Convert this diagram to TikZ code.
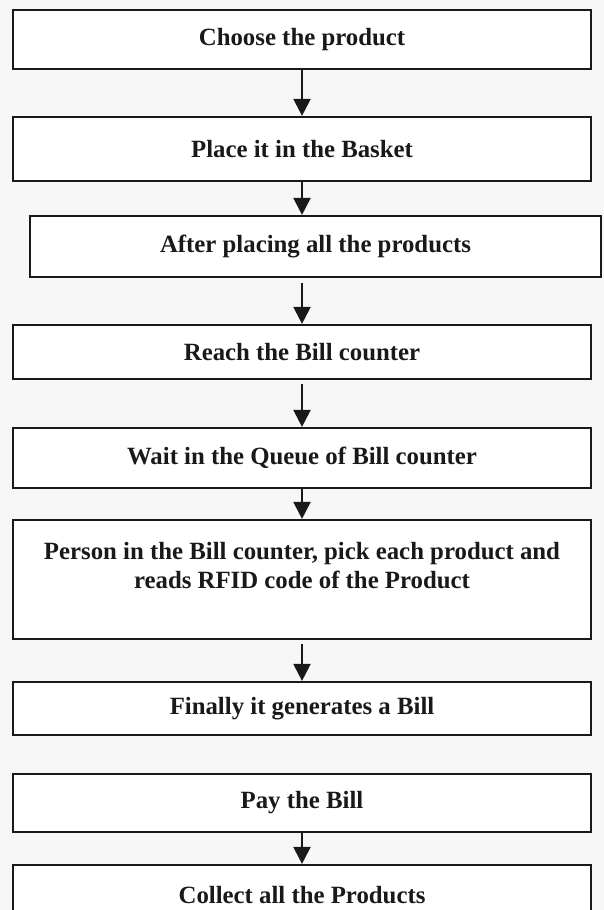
\documentclass[tikz,border=0pt]{standalone}
\usepackage{fontspec}
\setmainfont{Liberation Serif}
\usetikzlibrary{arrows.meta}
\begin{document}
\begin{tikzpicture}[x=0.5pt,y=-0.5pt,
  stepbox/.style={draw=black!90, line width=1.1pt, fill=white,
    minimum width=289pt, inner sep=0pt, align=center,
    font=\fontsize{12.4}{14.5}\selectfont\bfseries, text=black!90},
  flow/.style={draw=black!90, line width=1.1pt,
    -{Triangle[width=8.5pt,length=8.5pt]}}]
  \useasboundingbox (0,0) rectangle (604,910);
  \clip (0,0) rectangle (604,910);
  \fill[white!97!black] (0,0) rectangle (604,910);

  % process steps
  \node[stepbox, minimum height=29.5pt] (choose)  at (302,39.5)  {Choose the product};
  \node[stepbox, minimum height=32pt]   (basket)  at (302,149)   {Place it in the Basket};
  \node[stepbox, minimum height=30.5pt, minimum width=285.5pt]
                                        (placed)  at (315.5,246.5) {After placing all the products};
  \node[stepbox, minimum height=27pt]   (reach)   at (302,352)   {Reach the Bill counter};
  \node[stepbox, minimum height=30pt]   (queue)   at (302,458)   {Wait in the Queue of Bill counter};
  \node[stepbox, minimum height=59.5pt] (scan)    at (302,579.5)
    {Person in the Bill counter, pick each product and\\reads RFID code of the Product\\\mbox{}};
  \node[stepbox, minimum height=26.5pt] (bill)    at (302,708.5) {Finally it generates a Bill};
  \node[stepbox, minimum height=29pt]   (pay)     at (302,803)   {Pay the Bill};
  \node[stepbox, minimum height=30pt]   (collect) at (302,895)   {Collect all the Products};

  % connectors
  \draw[flow] (choose.south) -- (basket.north);
  \draw[flow] (basket.south) -- (basket.south |- placed.north);
  \draw[flow, shorten <=2.5pt] (basket.south |- placed.south) -- (reach.north);
  \draw[flow, shorten <=2pt] (reach.south) -- (queue.north);
  \draw[flow] (queue.south) -- (scan.north);
  \draw[flow, shorten <=2pt] (scan.south) -- (bill.north);
  \draw[flow] (pay.south) -- (collect.north);
\end{tikzpicture}
\end{document}
